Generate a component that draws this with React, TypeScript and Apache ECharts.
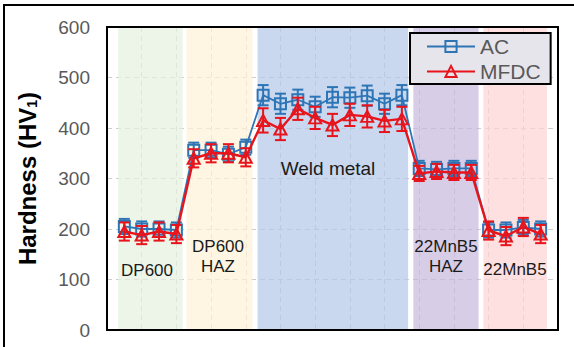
import React, { useEffect, useRef } from 'react';
import * as echarts from 'echarts';

const positions = [0.5, 1, 1.5, 2, 2.5, 3, 3.5, 4, 4.5, 5, 5.5, 6, 6.5, 7, 7.5, 8, 8.5, 9, 9.5, 10, 10.5, 11, 11.5, 12, 12.5];
const acValues = [205, 200, 200, 198, 356, 356, 348, 362, 465, 448, 456, 442, 461, 460, 464, 448, 465, 320, 318, 320, 320, 198, 198, 203, 200];
const acErrors = [15, 15, 15, 15, 15, 15, 15, 15, 20, 20, 20, 20, 20, 20, 20, 20, 20, 15, 15, 15, 15, 15, 15, 15, 15];
const mfdcValues = [195, 188, 195, 190, 340, 350, 350, 342, 415, 398, 438, 420, 406, 426, 423, 414, 418, 310, 314, 312, 312, 197, 186, 204, 190];
const mfdcErrors = [18, 18, 18, 18, 18, 18, 18, 18, 24, 22, 22, 22, 22, 22, 22, 22, 24, 15, 15, 15, 15, 18, 18, 18, 18];
const seriesNames = ['AC', 'MFDC'];
const zoneStart = [0.32, 2.29, 4.34, 8.83, 10.85];
const zoneEnd = [2.18, 4.19, 8.68, 10.71, 12.68];
const zoneColors = ['rgba(229,241,224,0.7)', 'rgba(254,242,214,0.7)', 'rgba(178,200,231,0.7)', 'rgba(199,184,221,0.7)', 'rgba(252,211,209,0.7)'];

const W = 574;
const H = 347;
const GL = 107, GT = 27, GR = 16, GB = 17;
const FONT = '"Liberation Sans", Arial, Helvetica, sans-serif';
const BLUE = '#2e75b6';
const RED = '#e8141c';

function errorBarSeries(values: number[], errors: number[], color: string, z: number) {
  return {
    type: 'custom',
    z,
    silent: true,
    data: positions.map((x, i) => [x, values[i] - errors[i], values[i] + errors[i]]),
    encode: { x: 0, y: [1, 2] },
    renderItem: (params: any, api: any) => {
      const x = api.value(0);
      const lo = api.coord([x, api.value(1)]);
      const hi = api.coord([x, api.value(2)]);
      const w = 5.5;
      const style = { stroke: color, lineWidth: 2 };
      return {
        type: 'group',
        children: [
          { type: 'line', shape: { x1: lo[0], y1: lo[1], x2: hi[0], y2: hi[1] }, style },
          { type: 'line', shape: { x1: lo[0] - w, y1: lo[1], x2: lo[0] + w, y2: lo[1] }, style },
          { type: 'line', shape: { x1: hi[0] - w, y1: hi[1], x2: hi[0] + w, y2: hi[1] }, style },
        ],
      };
    },
  };
}

const zoneText = (text: string, x: number, y: number, size = 17) => ({
  type: 'text',
  x,
  y,
  z: 50,
  style: {
    text,
    fontSize: size,
    lineHeight: 20,
    fontFamily: FONT,
    fill: '#1a1a1a',
    align: 'center',
    verticalAlign: 'middle',
  },
});

export default function App() {
  const ref = useRef<HTMLDivElement>(null);
  useEffect(() => {
    if (!ref.current) return;
    const chart = echarts.init(ref.current, null, { renderer: 'svg', width: W, height: H });
    const option: any = {
      animation: false,
      backgroundColor: '#fff',
      grid: { left: GL, top: GT, right: GR, bottom: GB, containLabel: false },
      legend: {
        orient: 'vertical',
        left: 410,
        top: 33,
        padding: [3, 10, 2, 16],
        itemGap: 4,
        itemWidth: 48,
        itemHeight: 14,
        backgroundColor: '#e7e5ec',
        borderColor: '#000',
        borderWidth: 2,
        borderRadius: 0,
        textStyle: { fontSize: 21, color: '#595959', fontFamily: FONT },
        data: seriesNames,
      },
      xAxis: {
        type: 'value',
        min: 0,
        max: 13,
        interval: 1,
        axisLine: { show: false },
        axisTick: { show: false },
        axisLabel: { show: false },
        splitLine: { show: true, lineStyle: { color: '#cccccc', width: 1, type: [5, 4] } },
      },
      yAxis: {
        type: 'value',
        min: 0,
        max: 600,
        interval: 100,
        axisLine: { show: false },
        axisTick: { show: false },
        axisLabel: { fontSize: 19, color: '#595959', fontFamily: FONT, margin: 17 },
        splitLine: { show: true, lineStyle: { color: '#cccccc', width: 1, type: [5, 4] } },
        name: 'Hardness (HV{s|1})',
        nameLocation: 'middle',
        nameGap: 68,
        nameTextStyle: {
          fontSize: 24,
          fontWeight: 'bold',
          color: '#000',
          fontFamily: FONT,
          rich: { s: { fontSize: 14, fontWeight: 'bold', color: '#000', fontFamily: FONT, verticalAlign: 'bottom', lineHeight: 20 } },
        },
      },
      series: [
        {
          type: 'line',
          name: 'bands',
          data: [],
          z: 1,
          silent: true,
          markArea: {
            silent: true,
            data: zoneStart.map((s, i) => [
              { xAxis: s, itemStyle: { color: zoneColors[i] } },
              { xAxis: zoneEnd[i] },
            ]),
          },
        },
        errorBarSeries(acValues, acErrors, BLUE, 3),
        {
          type: 'line',
          name: seriesNames[0],
          z: 4,
          data: positions.map((x, i) => [x, acValues[i]]),
          symbol: 'rect',
          symbolSize: 11,
          itemStyle: { color: 'rgba(0,0,0,0)', borderColor: BLUE, borderWidth: 2 },
          lineStyle: { color: BLUE, width: 1.8 },
        },
        errorBarSeries(mfdcValues, mfdcErrors, RED, 5),
        {
          type: 'line',
          name: seriesNames[1],
          z: 6,
          data: positions.map((x, i) => [x, mfdcValues[i]]),
          symbol: 'triangle',
          symbolSize: [12, 11],
          itemStyle: { color: 'rgba(0,0,0,0)', borderColor: RED, borderWidth: 2 },
          lineStyle: { color: RED, width: 2.4 },
        },
      ],
      graphic: [
        {
          type: 'rect',
          z: 40,
          silent: true,
          shape: { x: GL, y: GT, width: W - GL - GR, height: H - GT - GB },
          style: { fill: 'none', stroke: '#000', lineWidth: 2 },
        },
        { type: 'line', z: 40, shape: { x1: 3, y1: 5, x2: W, y2: 5 }, style: { stroke: '#000', lineWidth: 2 } },
        { type: 'line', z: 40, shape: { x1: 4, y1: 4, x2: 4, y2: H }, style: { stroke: '#000', lineWidth: 2 } },
        zoneText('DP600', 147, 270),
        zoneText('DP600\nHAZ', 218, 256),
        zoneText('Weld metal', 328, 168, 19),
        zoneText('22MnB5\nHAZ', 446, 256),
        zoneText('22MnB5', 515, 269),
      ],
    };
    chart.setOption(option);
    return () => chart.dispose();
  }, []);
  return (
    <div style={{ position: 'fixed', left: 0, top: 0, width: W, height: H, background: '#fff' }}>
      <div ref={ref} style={{ width: W, height: H }} />
    </div>
  );
}
